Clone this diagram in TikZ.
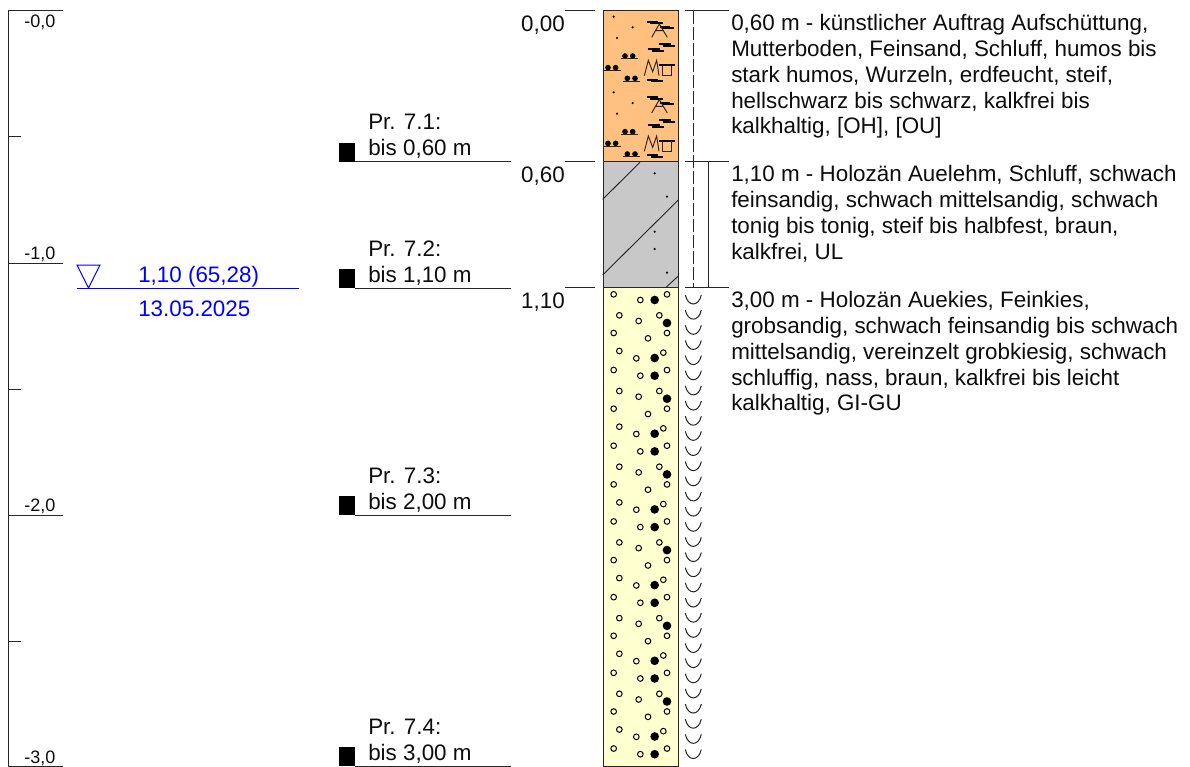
\documentclass[tikz,border=0pt]{standalone}
\usepackage{fontspec}
\setmainfont{Liberation Sans}
\definecolor{soilorange}{HTML}{FFC080}
\definecolor{soilgray}{HTML}{C8C8C8}
\definecolor{soilyellow}{HTML}{FFFFD0}
\definecolor{wblue}{HTML}{0000FF}
\newcommand{\mainsize}{\fontsize{16.8}{19.3}\selectfont}
\newcommand{\smallsize}{\fontsize{13.5}{16}\selectfont}
\tikzset{
  ln/.style={line width=.75pt,color=black!85},
  bar/.style={line width=1.7pt,color=black},
  thin sym/.style={line width=.7pt,color=black!85},
  openc/.style={line width=.75pt,draw=black,fill=none},
  main/.style={font=\mainsize,inner sep=0pt,anchor=north west,align=left,text=black!95},
  lab/.style={font=\mainsize,inner sep=0pt,anchor=base west,text=black!95},
  deplab/.style={font=\mainsize,inner sep=0pt,anchor=base east,text=black!95},
  tick/.style={font=\smallsize,inner sep=0pt,anchor=base west,text=black!95},
  wtext/.style={font=\mainsize,inner sep=0pt,anchor=base west,text=wblue},
}
\begin{document}
\begin{tikzpicture}[x=.75pt,y=-.75pt]
\useasboundingbox (0,0) rectangle (1190,767);
% ruler
\draw[ln] (8.3,767) -- (8.3,10.5) -- (63,10.5);
\foreach \yy in {263,515,766.4} \draw[ln] (8.3,\yy) -- (63,\yy);
\foreach \yy in {137,389,641} \draw[ln] (8.3,\yy) -- (21,\yy);
\node[tick] (t0) at (24,27.3) {-0,0};
\node[tick] (t1) at (24,259.3) {-1,0};
\node[tick] (t2) at (24,511.3) {-2,0};
\node[tick] (t3) at (24,763.3) {-3,0};
% water level
\draw[wblue,line width=.75pt] (77,265) -- (100,265) -- (88.5,288) -- cycle;
\draw[wblue,line width=.75pt] (77,288) -- (299,288);
\node[wtext] (w1) at (138,282.7) {1,10 (65,28)};
\node[wtext] (w2) at (138,316) {13.05.2025};
% samples
\foreach \yy/\nm/\dep in {162/7.1/{0,60}, 288/7.2/{1,10}, 515/7.3/{2,00}, 766.4/7.4/{3,00}}{
  \fill[black] (339,\yy-19) rectangle (355,\yy);
  \draw[ln] (355,\yy) -- (511,\yy);
  \node[lab] at (368,\yy-32) {Pr. \nm:};
  \node[lab] at (368,\yy-6) {bis \dep\ m};
}
% depth labels
\foreach \yy in {10.8,162,287.8}{
  \draw[ln] (565,\yy) -- (595,\yy);
  \draw[ln] (685,\yy) -- (729,\yy);
}
\node[deplab] (d0) at (565,31.5) {0,00};
\node[deplab] (d1) at (565,182.5) {0,60};
\node[deplab] (d2) at (565,308.5) {1,10};
% column fills
\fill[soilorange] (603,10.8) rectangle (678.5,162);
\fill[soilgray] (603,162) rectangle (678.5,287.8);
\fill[soilyellow] (603,287.8) rectangle (678.5,766.6);
% orange pattern
\foreach \k in {0,1}{
\begin{scope}[shift={(590,75.7*\k)},x=.25pt,y=-.25pt]
  \foreach \a/\b in {71/50,128/82,81/114} \fill[black] (\a,\b) circle[radius=3.6];
  \foreach \a/\b/\c in {105/168/0,54/203/0,112/235/0}{
    \fill[black] (\a,\b) circle[radius=8.5] (\a+23,\b) circle[radius=8.5];
    \draw[thin sym] (\a-12,\b+8) -- (\a+38,\b+8);
  }
  \draw[bar] (170,65) -- (205,65) (180,69) -- (220,69);
  \draw[bar] (210,81) -- (240,81) (215,85) -- (253,85);
  \draw[bar] (207,132) -- (243,132) (218,139) -- (255,139);
  \draw[bar] (173,148) -- (210,148) (185,153) -- (222,153);
  \draw[bar] (207,195) -- (255,195);
  \draw[bar] (170,239) -- (205,239) (183,243) -- (220,243);
  \draw[thin sym] (185,112) -- (208,72) -- (232,112) (197,92) -- (220,92);
  \draw[thin sym] (163,227) -- (175,181) -- (188,215) -- (200,181) -- (207,227);
  \draw[thin sym] (218,197) -- (218,226) -- (243,226) -- (243,197);
\end{scope}}
% gray pattern
\begin{scope}[shift={(590,150)},x=.25pt,y=-.25pt]
  \draw[thin sym] (38,148) -- (150,37) (38,375) -- (265,150) (227,413) -- (265,378);
  \foreach \a/\b in {194/70,231/140,194/245,194/297,231/368} \fill[black] (\a,\b) circle[radius=3.6];
\end{scope}
% yellow pattern
\begin{scope}
\clip (603,287.8) rectangle (678.5,766.6);
\foreach \k in {0,...,6}{
\begin{scope}[shift={(590,280+75.7*\k)},x=.25pt,y=-.25pt]
  \foreach \a/\b in {71/43,151/60,231/43,88/106,208/106,146/123,71/159,231/159,174/175,88/213,220/218,139/235}
    \draw[openc] (\a,\b) circle[radius=8.5];
  \foreach \a/\b in {194/60,231/129,194/234}
    \fill[black] (\a,\b) circle[radius=13];
\end{scope}}
\end{scope}
% column outlines
\draw[ln] (603,10.8) rectangle (678.5,766.6);
\draw[ln] (603,162) -- (678.5,162) (603,287.8) -- (678.5,287.8);
% symbol column
\draw[ln,dash pattern=on 9.75pt off 2.25pt] (693,10.8) -- (693,287.8);
\draw[ln] (708.5,162) -- (708.5,287.8);
\foreach \k in {0,...,30}{
  \pgfmathsetmacro{\yy}{295+15.15*\k}
  \draw[ln] (685.3,\yy) .. controls (688,\yy+12) and (698.6,\yy+12) .. (701.3,\yy);
}
% descriptions
\node[main] (txt1) at (731,14.5) {0,60 m - künstlicher Auftrag Aufschüttung,\\Mutterboden, Feinsand, Schluff, humos bis\\stark humos, Wurzeln, erdfeucht, steif,\\hellschwarz bis schwarz, kalkfrei bis\\kalkhaltig, [OH], [OU]};
\node[main] (txt2) at (731,165.5) {1,10 m - Holozän Auelehm, Schluff, schwach\\feinsandig, schwach mittelsandig, schwach\\tonig bis tonig, steif bis halbfest, braun,\\kalkfrei, UL};
\node[main] (txt3) at (731,291.5) {3,00 m - Holozän Auekies, Feinkies,\\grobsandig, schwach feinsandig bis schwach\\mittelsandig, vereinzelt grobkiesig, schwach\\schluffig, nass, braun, kalkfrei bis leicht\\kalkhaltig, GI-GU};
\end{tikzpicture}
\end{document}
